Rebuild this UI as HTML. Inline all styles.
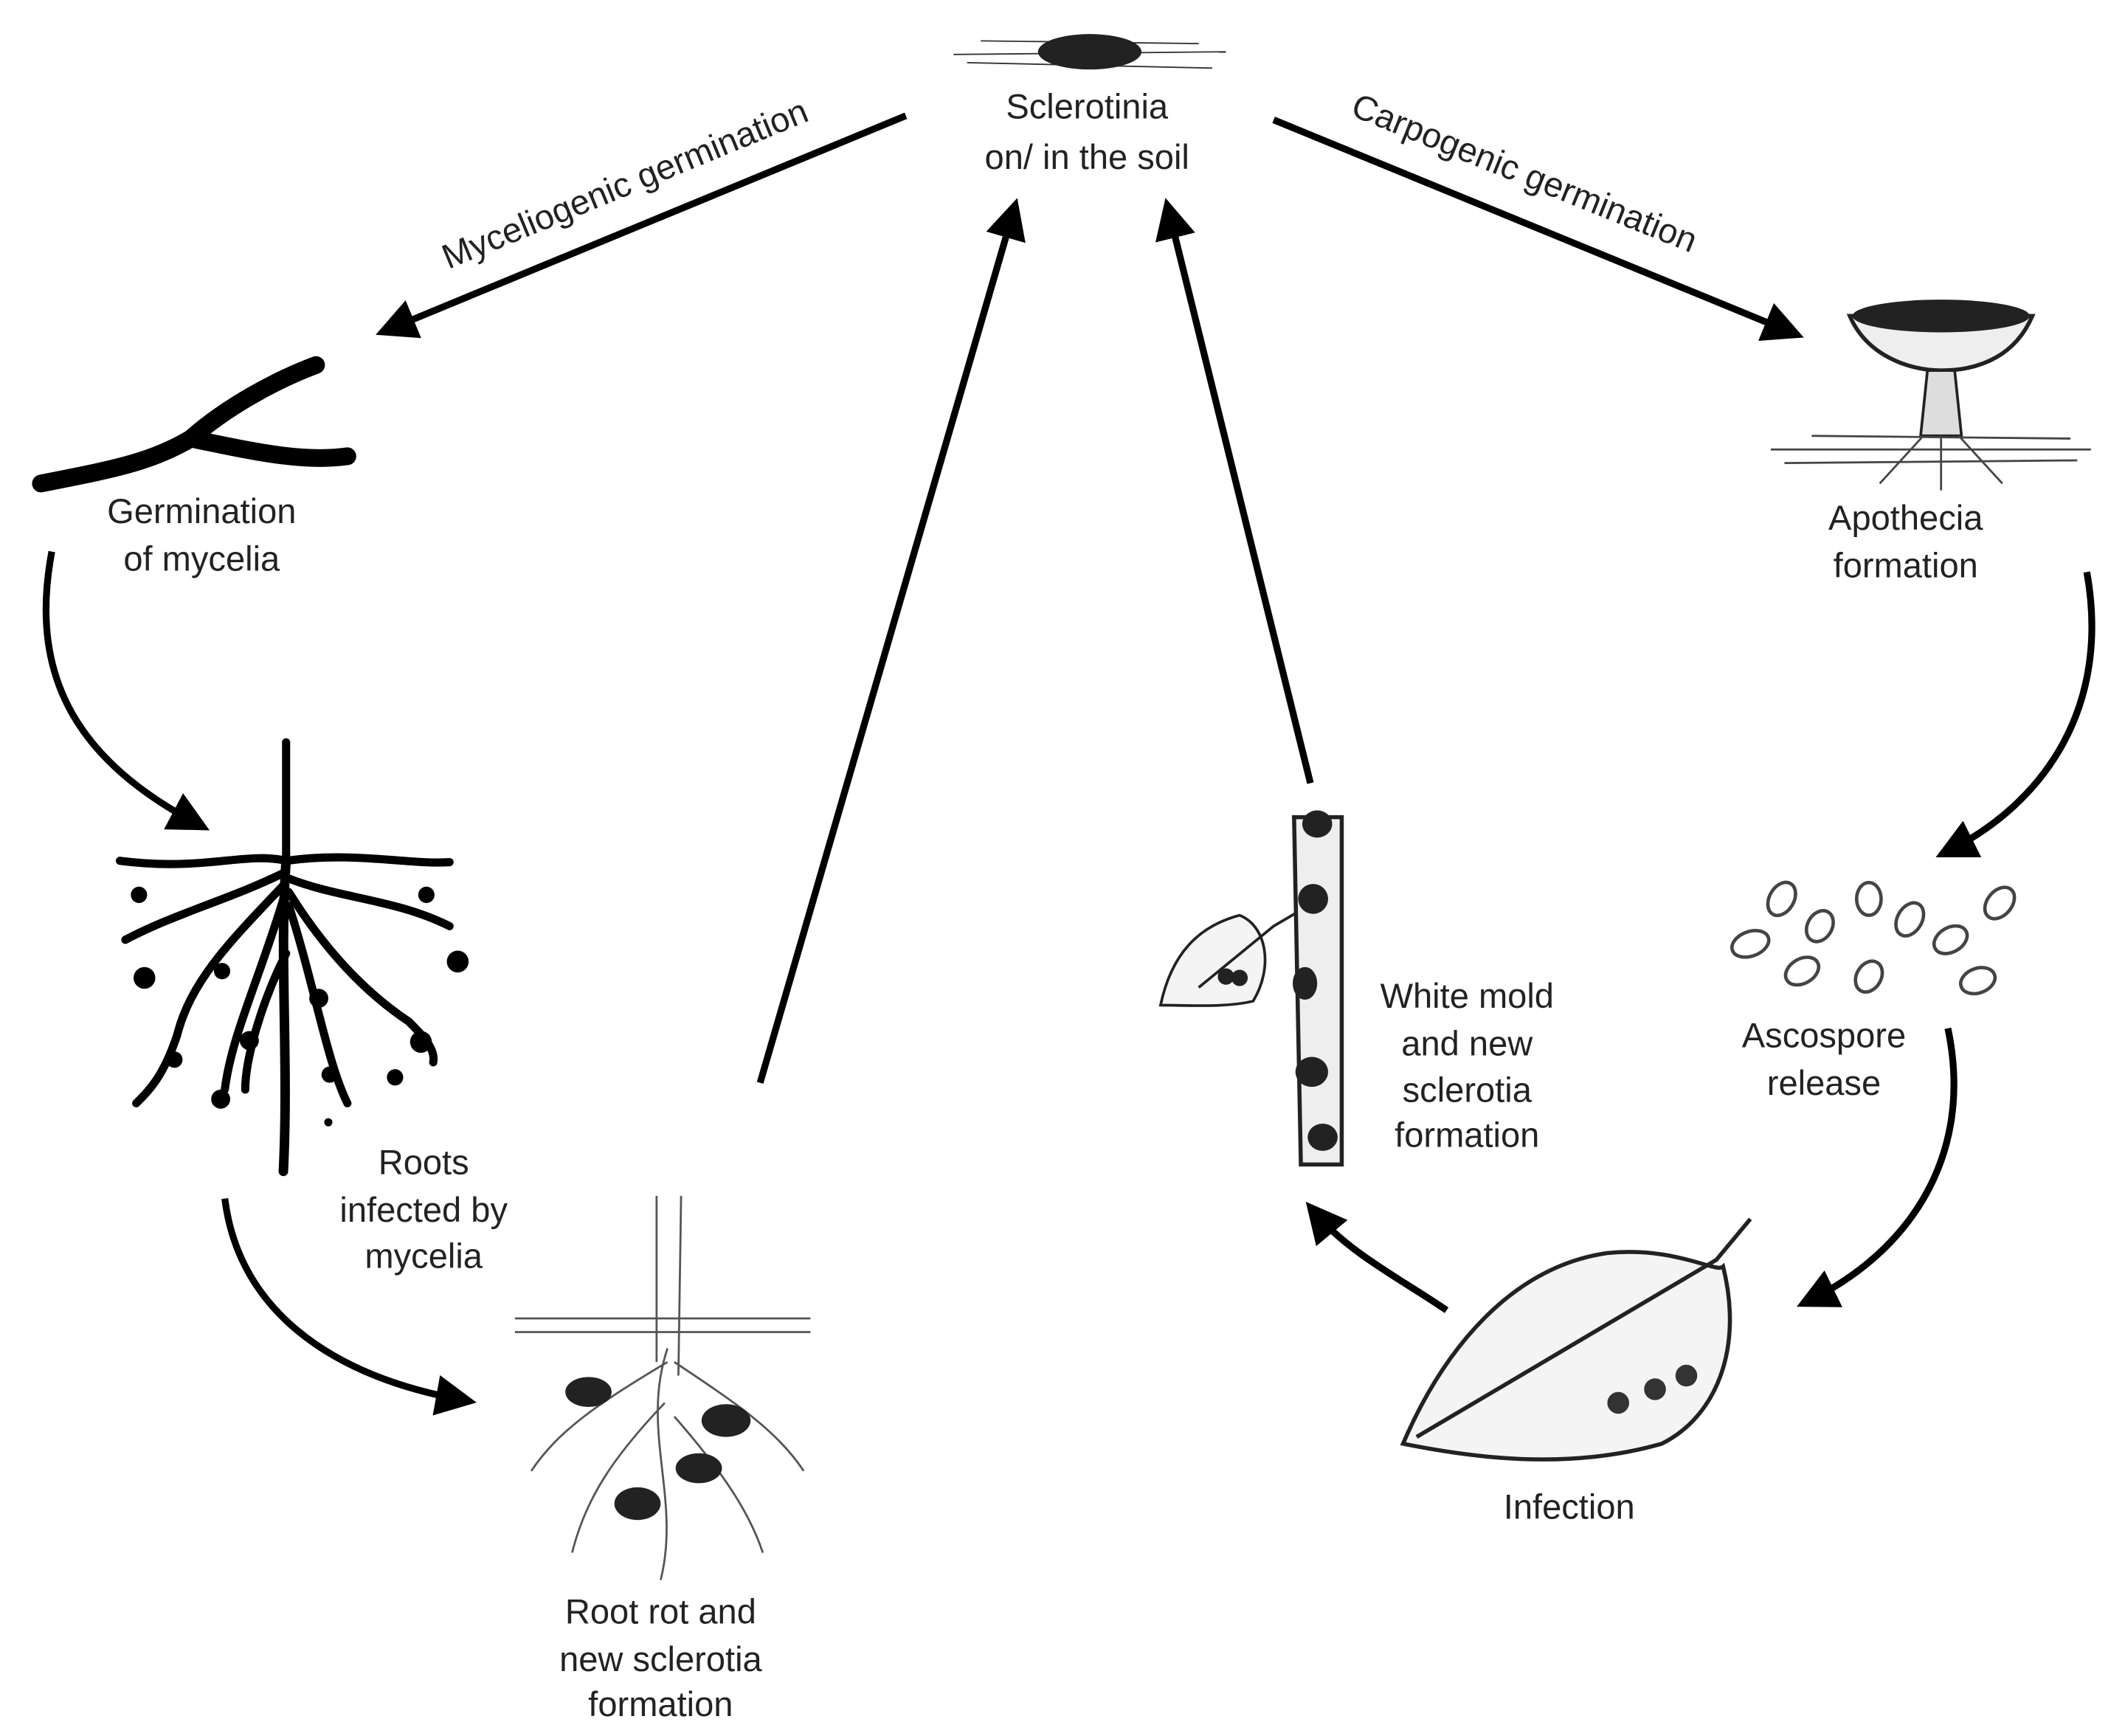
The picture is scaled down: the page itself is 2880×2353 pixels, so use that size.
<!DOCTYPE html>
<html><head><meta charset="utf-8"><style>
html,body{margin:0;padding:0;background:#fff;}
svg{display:block;}
text{font-family:"Liberation Sans",sans-serif;font-size:25.5px;fill:#222;text-anchor:middle;}
</style></head><body>
<svg width="2880" height="2353" viewBox="0 0 1560 1274.6" xmlns="http://www.w3.org/2000/svg">
<defs>
<marker id="ah" markerWidth="6" markerHeight="6" refX="4" refY="3" orient="auto" markerUnits="strokeWidth">
<path d="M0,0 L6,3 L0,6 z" fill="#000"/></marker>
</defs>
<g stroke="#000" stroke-width="5" fill="none" marker-end="url(#ah)">
<line x1="665" y1="85" x2="285" y2="242"/>
<line x1="935" y1="88" x2="1315" y2="244"/>
<line x1="558" y1="795" x2="744" y2="155"/>
<line x1="962" y1="575" x2="858" y2="155"/>
<path d="M38,405 C20,500 60,560 145,605"/>
<path d="M165,880 C175,960 240,1010 340,1028"/>
<path d="M1532,420 C1550,520 1500,590 1430,625"/>
<path d="M1430,755 C1450,850 1400,920 1328,955"/>
<path d="M1062,962 C1030,940 990,920 965,890"/>
</g>
<text x="462" y="143" transform="rotate(-22.4 462 143)">Myceliogenic germination</text>
<text x="1116" y="135" transform="rotate(22 1116 135)">Carpogenic germination</text>
<text x="798" y="87">Sclerotinia</text>
<text x="798" y="124">on/ in the soil</text>
<text x="148" y="384">Germination</text>
<text x="148" y="419">of mycelia</text>
<text x="311" y="862">Roots</text>
<text x="311" y="897">infected by</text>
<text x="311" y="931">mycelia</text>
<text x="485" y="1192">Root rot and</text>
<text x="485" y="1227">new sclerotia</text>
<text x="485" y="1260">formation</text>
<text x="1399" y="389">Apothecia</text>
<text x="1399" y="424">formation</text>
<text x="1339" y="769">Ascospore</text>
<text x="1339" y="804">release</text>
<text x="1152" y="1115">Infection</text>
<text x="1077" y="740">White mold</text>
<text x="1077" y="775">and new</text>
<text x="1077" y="809">sclerotia</text>
<text x="1077" y="842">formation</text>
<!-- sclerotium -->
<g stroke="#333" stroke-width="1"><line x1="700" y1="40" x2="900" y2="38"/><line x1="710" y1="46" x2="890" y2="50"/><line x1="720" y1="30" x2="880" y2="32"/></g>
<ellipse cx="800" cy="38" rx="38" ry="13" fill="#222"/>
<!-- mycelia branch -->
<path d="M30,355 C80,345 110,340 140,322 C165,300 200,280 232,268 M140,322 C180,330 220,340 255,335" stroke="#000" stroke-width="13" fill="none" stroke-linecap="round"/>
<!-- roots -->
<g stroke="#000" stroke-width="6" fill="none" stroke-linecap="round">
<line x1="210" y1="545" x2="210" y2="635"/>
<path d="M88,632 C150,640 180,625 210,632 C260,625 300,635 330,633"/>
<path d="M210,632 C205,700 212,780 208,860" stroke-width="7"/>
<path d="M210,640 C170,660 130,670 92,690"/>
<path d="M208,650 C170,690 140,720 130,760 C120,790 110,800 100,810"/>
<path d="M208,660 C190,720 170,760 165,800"/>
<path d="M212,645 C250,660 290,660 330,680"/>
<path d="M212,655 C240,700 270,730 300,750 C310,760 320,770 318,780"/>
<path d="M212,665 C230,720 240,780 255,810"/>
<path d="M210,700 C190,740 180,780 180,800"/>
</g>
<g fill="#000">
<circle cx="102" cy="657" r="6"/><circle cx="313" cy="657" r="6"/><circle cx="106" cy="718" r="8"/><circle cx="336" cy="706" r="8"/>
<circle cx="163" cy="713" r="6"/><circle cx="234" cy="733" r="7"/><circle cx="183" cy="764" r="7"/><circle cx="128" cy="778" r="6"/>
<circle cx="309" cy="765" r="8"/><circle cx="242" cy="789" r="6"/><circle cx="290" cy="791" r="6"/><circle cx="162" cy="807" r="7"/><circle cx="241" cy="824" r="3"/>
</g>
<!-- root rot -->
<g stroke="#555" stroke-width="1.5" fill="none">
<path d="M482,878 L482,1000 M500,878 L498,1010"/>
<line x1="378" y1="968" x2="595" y2="968"/><line x1="378" y1="978" x2="595" y2="978"/>
<path d="M490,990 C470,1050 500,1100 485,1160 M490,1000 C440,1030 410,1050 390,1080 M495,1000 C540,1030 570,1050 590,1080 M488,1030 C450,1070 430,1100 420,1140 M495,1040 C530,1080 550,1110 560,1140"/>
</g>
<g fill="#222"><ellipse cx="432" cy="1022" rx="17" ry="11"/><ellipse cx="533" cy="1043" rx="18" ry="12"/><ellipse cx="513" cy="1078" rx="17" ry="11"/><ellipse cx="468" cy="1104" rx="17" ry="12"/></g>
<!-- apothecia -->
<path d="M1358,232 C1370,260 1400,272 1425,272 C1455,272 1480,260 1492,232 Z" fill="#eee" stroke="#222" stroke-width="3"/>
<ellipse cx="1425" cy="232" rx="65" ry="12" fill="#222"/>
<path d="M1415,272 L1410,320 L1440,320 L1435,272 Z" fill="#ddd" stroke="#222" stroke-width="2"/>
<g stroke="#444" stroke-width="1.5"><path d="M1300,330 L1535,330 M1310,340 L1525,338 M1330,320 L1520,322 M1412,320 L1380,355 M1438,320 L1470,355 M1425,320 L1425,360"/></g>
<!-- ascospores -->
<g fill="none" stroke="#444" stroke-width="2.5">
<ellipse cx="1308" cy="660" rx="9" ry="13" transform="rotate(30 1308 660)"/><ellipse cx="1372" cy="660" rx="9" ry="12"/><ellipse cx="1468" cy="663" rx="9" ry="13" transform="rotate(40 1468 663)"/>
<ellipse cx="1336" cy="680" rx="9" ry="12" transform="rotate(30 1336 680)"/><ellipse cx="1402" cy="675" rx="9" ry="13" transform="rotate(30 1402 675)"/>
<ellipse cx="1285" cy="693" rx="9" ry="14" transform="rotate(70 1285 693)"/><ellipse cx="1432" cy="690" rx="9" ry="13" transform="rotate(60 1432 690)"/>
<ellipse cx="1323" cy="713" rx="9" ry="13" transform="rotate(60 1323 713)"/><ellipse cx="1372" cy="717" rx="9" ry="12" transform="rotate(30 1372 717)"/><ellipse cx="1452" cy="720" rx="9" ry="13" transform="rotate(70 1452 720)"/>
</g>
<!-- infection leaf -->
<path d="M1030,1060 C1060,990 1110,930 1180,920 C1230,915 1260,935 1265,930 C1280,990 1260,1040 1220,1060 C1150,1080 1080,1070 1030,1060 Z" fill="#f4f4f4" stroke="#222" stroke-width="3"/>
<path d="M1040,1055 L1260,925 L1285,895" stroke="#222" stroke-width="3" fill="none"/>
<g fill="#333"><circle cx="1188" cy="1030" r="8"/><circle cx="1215" cy="1020" r="8"/><circle cx="1238" cy="1010" r="8"/></g>
<!-- stem -->
<path d="M950,600 L985,600 L985,855 L955,855 Z" fill="#eee" stroke="#222" stroke-width="3"/>
<path d="M852,738 C860,700 880,680 910,672 C930,680 935,710 920,735 C900,740 870,738 852,738 Z" fill="#f4f4f4" stroke="#222" stroke-width="2"/>
<path d="M880,725 L935,680 L952,670" stroke="#222" stroke-width="2" fill="none"/>
<g fill="#222"><ellipse cx="967" cy="605" rx="11" ry="10"/><ellipse cx="964" cy="660" rx="11" ry="11"/><ellipse cx="958" cy="722" rx="9" ry="12"/><ellipse cx="963" cy="787" rx="12" ry="11"/><ellipse cx="971" cy="835" rx="11" ry="10"/><circle cx="900" cy="717" r="6"/><circle cx="910" cy="718" r="6"/></g>
</svg>
</body></html>
